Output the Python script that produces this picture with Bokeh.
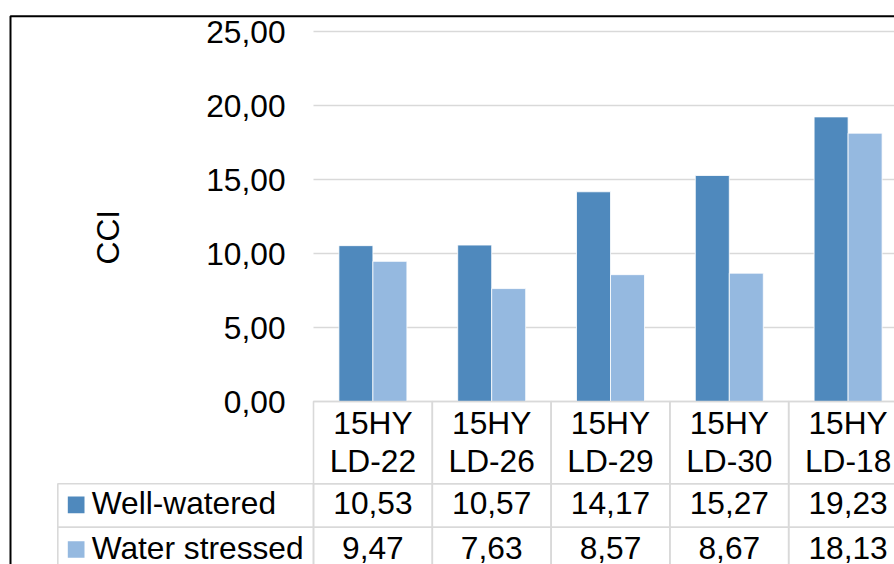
import math

from bokeh.core.properties import value
from bokeh.embed import file_html
from bokeh.models import Range1d
from bokeh.plotting import figure
from bokeh.resources import INLINE

# ---- data -------------------------------------------------------------
cat_line1 = ["15HY", "15HY", "15HY", "15HY", "15HY"]
cat_line2 = ["LD-22", "LD-26", "LD-29", "LD-30", "LD-18"]
series_names = ["Well-watered", "Water stressed"]
well_watered = [10.53, 10.57, 14.17, 15.27, 19.23]
water_stressed = [9.47, 7.63, 8.57, 8.67, 18.13]
y_ticks = [0, 5, 10, 15, 20, 25]
y_tick_labels = ["0,00", "5,00", "10,00", "15,00", "20,00", "25,00"]
y_title = "CCI"

# ---- styling ----------------------------------------------------------
FONT = "Liberation Sans"
FS = "31.7px"
TXT = "#000000"
C_WW = "#4F89BD"
C_WS = "#95B9E0"
GRID = "#D9D9D9"

W, H = 894, 564
PLOT_LEFT, PLOT_TOP, PLOT_BOTTOM = 313, 31, 401   # plot area edges on the canvas
CAT_PX = 118.8                                    # one category slot in pixels
Y_MAX = 25
PX_PER_Y = (PLOT_BOTTOM - PLOT_TOP) / Y_MAX


def dx(px):
    """Canvas x pixel -> category units (0 = left edge of the plot area)."""
    return (px - PLOT_LEFT) / CAT_PX


def dy(py):
    """Canvas y pixel -> value units (0 = value axis baseline)."""
    return (PLOT_BOTTOM - py) / PX_PER_Y


n = len(cat_line1)
x_end = dx(W)

# one frame spanning the whole canvas: chart, value labels and data table
p = figure(
    width=W, height=H,
    x_range=Range1d(dx(0), dx(W)), y_range=Range1d(dy(H), dy(0)),
    output_backend="svg", toolbar_location=None,
    x_axis_location=None, y_axis_location=None,
    min_border=0, outline_line_color=None,
    background_fill_color="white", border_fill_color="white",
)
p.grid.visible = False

# horizontal gridlines and value labels
p.segment(x0=[0] * len(y_ticks), x1=[x_end] * len(y_ticks), y0=y_ticks, y1=y_ticks,
          line_color=GRID, line_width=1.6)
txt = dict(text_font=value(FONT), text_font_size=value(FS), text_color=TXT)
p.text(x=[dx(285)] * len(y_ticks), y=y_ticks, text=y_tick_labels,
       text_align="right", text_baseline="middle", **txt)

# clustered bars
bw = 34 / CAT_PX
centers = [i + 0.5 for i in range(n)]
p.vbar(x=[c - bw / 2 for c in centers], top=well_watered, width=bw,
       fill_color=C_WW, line_color="white", line_width=0.8)
p.vbar(x=[c + bw / 2 for c in centers], top=water_stressed, width=bw,
       fill_color=C_WS, line_color="white", line_width=0.8)

# data table below the plot
row_top = [0, dy(483.3), dy(526.7)]
row_bot = [dy(483.3), dy(526.7), dy(590)]
for r in range(3):
    p.quad(left=list(range(n)), right=[i + 1 for i in range(n)],
           top=[row_top[r]] * n, bottom=[row_bot[r]] * n,
           fill_color=None, line_color=GRID, line_width=1.6)
p.quad(left=[dx(57.3)] * 2, right=[0, 0], top=row_top[1:], bottom=row_bot[1:],
       fill_color=None, line_color=GRID, line_width=1.6)

rows = [
    (cat_line1, dy(422.0)),
    (cat_line2, dy(460.0)),
    ([f"{v:.2f}".replace(".", ",") for v in well_watered], dy(502.5)),
    ([f"{v:.2f}".replace(".", ",") for v in water_stressed], dy(547.5)),
]
for labels, ym in rows:
    p.text(x=centers, y=[ym] * n, text=labels,
           text_align="center", text_baseline="middle", **txt)

# legend keys inside the table
key_tops = [dy(496), dy(540.7)]
key_bots = [dy(512.7), dy(557.3)]
p.quad(left=[dx(67.3)] * 2, right=[dx(84)] * 2, top=key_tops, bottom=key_bots,
       fill_color=[C_WW, C_WS], line_color=None)
p.text(x=[dx(91.2)] * 2, y=[dy(502.5), dy(547.5)], text=series_names,
       text_align="left", text_baseline="middle", **txt)

# axis title
p.text(x=[dx(107)], y=[dy(236.7)], text=[y_title], angle=math.pi / 2,
       text_align="center", text_baseline="middle", **txt)

# chart frame
p.quad(left=[dx(10)], right=[dx(W + 40)], top=[dy(15.7)], bottom=[dy(H + 40)],
       fill_color=None, line_color="black", line_width=2)

open("out.html", "w").write(file_html(p, INLINE))
